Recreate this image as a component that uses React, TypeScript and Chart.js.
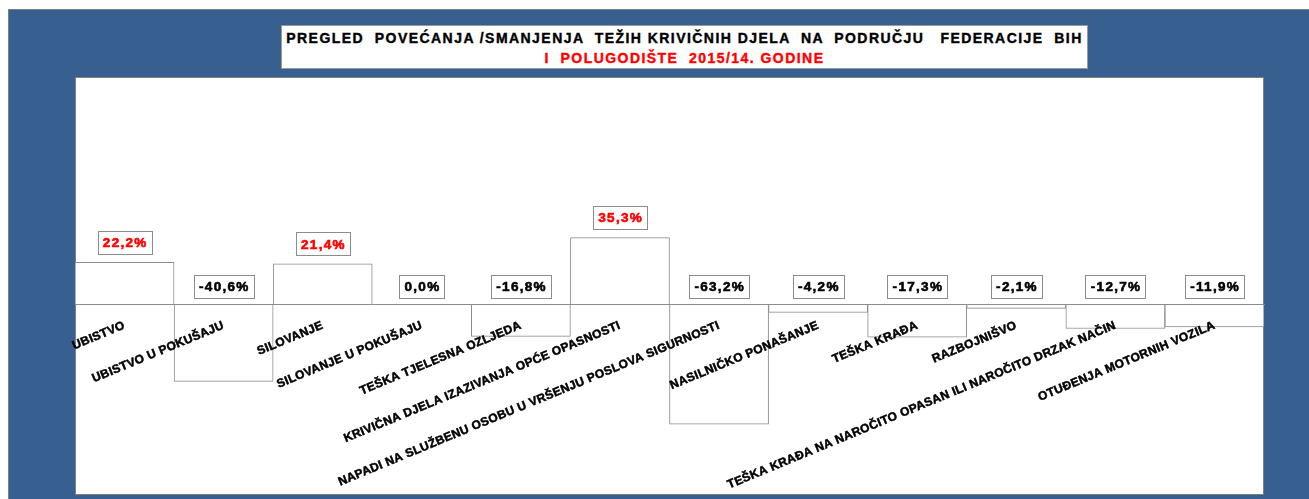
import React, { useEffect, useRef } from "react";
import { Chart, registerables } from "chart.js";

Chart.register(...registerables);

const titleLine1 = "PREGLED  POVEĆANJA /SMANJENJA  TEŽIH KRIVIČNIH DJELA  NA  PODRUČJU   FEDERACIJE  BIH";
const titleLine2 = "I  POLUGODIŠTE  2015/14. GODINE";

const categories = [
  "UBISTVO",
  "UBISTVO U POKUŠAJU",
  "SILOVANJE",
  "SILOVANJE U POKUŠAJU",
  "TEŠKA TJELESNA OZLJEDA",
  "KRIVIČNA DJELA IZAZIVANJA OPĆE OPASNOSTI",
  "NAPADI NA SLUŽBENU OSOBU U VRŠENJU POSLOVA SIGURNOSTI",
  "NASILNIČKO PONAŠANJE",
  "TEŠKA KRAĐA",
  "RAZBOJNIŠVO",
  "TEŠKA KRAĐA NA NAROČITO OPASAN ILI NAROČITO DRZAK NAČIN",
  "OTUĐENJA MOTORNIH VOZILA",
];

const changePercent = [22.2, -40.6, 21.4, 0.0, -16.8, 35.3, -63.2, -4.2, -17.3, -2.1, -12.7, -11.9];

const yMin = -100;
const yMax = 120;

const FONT = '"Liberation Sans", Arial, sans-serif';

const plotBgPlugin = {
  id: "plotBg",
  beforeDraw(chart: any) {
    const { ctx, chartArea } = chart;
    ctx.save();
    ctx.fillStyle = "#ffffff";
    ctx.fillRect(chartArea.left, chartArea.top, chartArea.right - chartArea.left, chartArea.bottom - chartArea.top);
    ctx.strokeStyle = "#808080";
    ctx.lineWidth = 1;
    ctx.strokeRect(chartArea.left + 0.5, chartArea.top + 0.5, chartArea.right - chartArea.left - 1, chartArea.bottom - chartArea.top);
    ctx.restore();
    (ctx as any).letterSpacing = "0.35px";
  },
};

const valueLabelPlugin = {
  id: "valueLabels",
  afterDatasetsDraw(chart: any) {
    const { ctx } = chart;
    const meta = chart.getDatasetMeta(0);
    const yScale = chart.scales.y;
    ctx.save();
    (ctx as any).letterSpacing = "1.3px";
    ctx.font = `bold 13.5px ${FONT}`;
    ctx.textAlign = "center";
    ctx.textBaseline = "middle";
    changePercent.forEach((v, i) => {
      const bar = meta.data[i];
      if (!bar) return;
      const text = v.toFixed(1).replace(".", ",") + "%";
      const cx = bar.x;
      const cy = v > 0 ? yScale.getPixelForValue(v) - 20 : yScale.getPixelForValue(0) - 18;
      const tw = ctx.measureText(text).width;
      const w = Math.round(tw + 9);
      const h = 23;
      const x0 = Math.round(cx - w / 2) + 0.5;
      const y0 = Math.round(cy - h / 2) + 0.5;
      ctx.fillStyle = "#ffffff";
      ctx.fillRect(x0, y0, w, h);
      ctx.strokeStyle = "#8c8c8c";
      ctx.lineWidth = 1;
      ctx.strokeRect(x0, y0, w, h);
      const col = v > 0 ? "#ff0000" : "#000000";
      ctx.fillStyle = col;
      ctx.strokeStyle = col;
      ctx.lineWidth = 0.6;
      ctx.strokeText(text, cx + 0.7, cy + 1);
      ctx.fillText(text, cx + 0.7, cy + 1);
    });
    ctx.restore();
  },
};

export default function App() {
  const canvasRef = useRef<HTMLCanvasElement | null>(null);

  useEffect(() => {
    if (!canvasRef.current) return;
    const chart = new Chart(canvasRef.current, {
      type: "bar",
      data: {
        labels: categories,
        datasets: [
          {
            data: changePercent,
            backgroundColor: "#ffffff",
            borderColor: "#8c8c8c",
            borderWidth: 1,
            categoryPercentage: 1,
            barPercentage: 1,
          },
        ],
      },
      options: {
        animation: false,
        responsive: true,
        maintainAspectRatio: false,
        layout: { padding: { left: 66, top: 67, right: 45, bottom: 5 } },
        plugins: {
          legend: { display: false },
          tooltip: { enabled: false },
          title: { display: false },
        },
        scales: {
          x: {
            position: { y: 0 },
            offset: true,
            grid: { display: true, color: "rgba(0,0,0,0)", drawTicks: false, z: -1 },
            border: { display: true, color: "#8c8c8c", width: 1, z: 1 },
            ticks: {
              z: 1,
              autoSkip: false,
              minRotation: 22.5,
              maxRotation: 22.5,
              padding: 14,
              color: "#000000",
              textStrokeColor: "#000000",
              textStrokeWidth: 0.5,
              font: { family: FONT, weight: "bold", size: 12 },
            },
          },
          y: { display: false, min: yMin, max: yMax },
        },
      } as any,
      plugins: [plotBgPlugin, valueLabelPlugin],
    });
    return () => chart.destroy();
  }, []);

  return (
    <div
      style={{
        position: "absolute",
        left: 8,
        top: 9,
        width: 1301,
        height: 490,
        boxSizing: "border-box",
        background: "#376091",
        borderLeft: "1px solid #7f7f7f",
        borderTop: "1px solid #7f7f7f",
        overflow: "hidden",
      }}
    >
      <div style={{ position: "absolute", left: 0, top: 0, width: 1300, height: 489 }}>
        <canvas ref={canvasRef} />
      </div>
      <div
        style={{
          position: "absolute",
          left: 272,
          top: 15,
          width: 807,
          height: 44,
          boxSizing: "border-box",
          background: "#ffffff",
          border: "1px solid #9a9a9a",
          fontFamily: FONT,
          fontWeight: "bold",
          fontSize: "14px",
          textAlign: "center",
          whiteSpace: "pre",
          paddingTop: 2,
          lineHeight: "20px",
          WebkitTextStroke: "0.4px",
        }}
      >
        <div style={{ color: "#000000", letterSpacing: "1.45px" }}>{titleLine1}</div>
        <div style={{ color: "#ff0000", letterSpacing: "1.45px" }}>{titleLine2}</div>
      </div>
    </div>
  );
}
